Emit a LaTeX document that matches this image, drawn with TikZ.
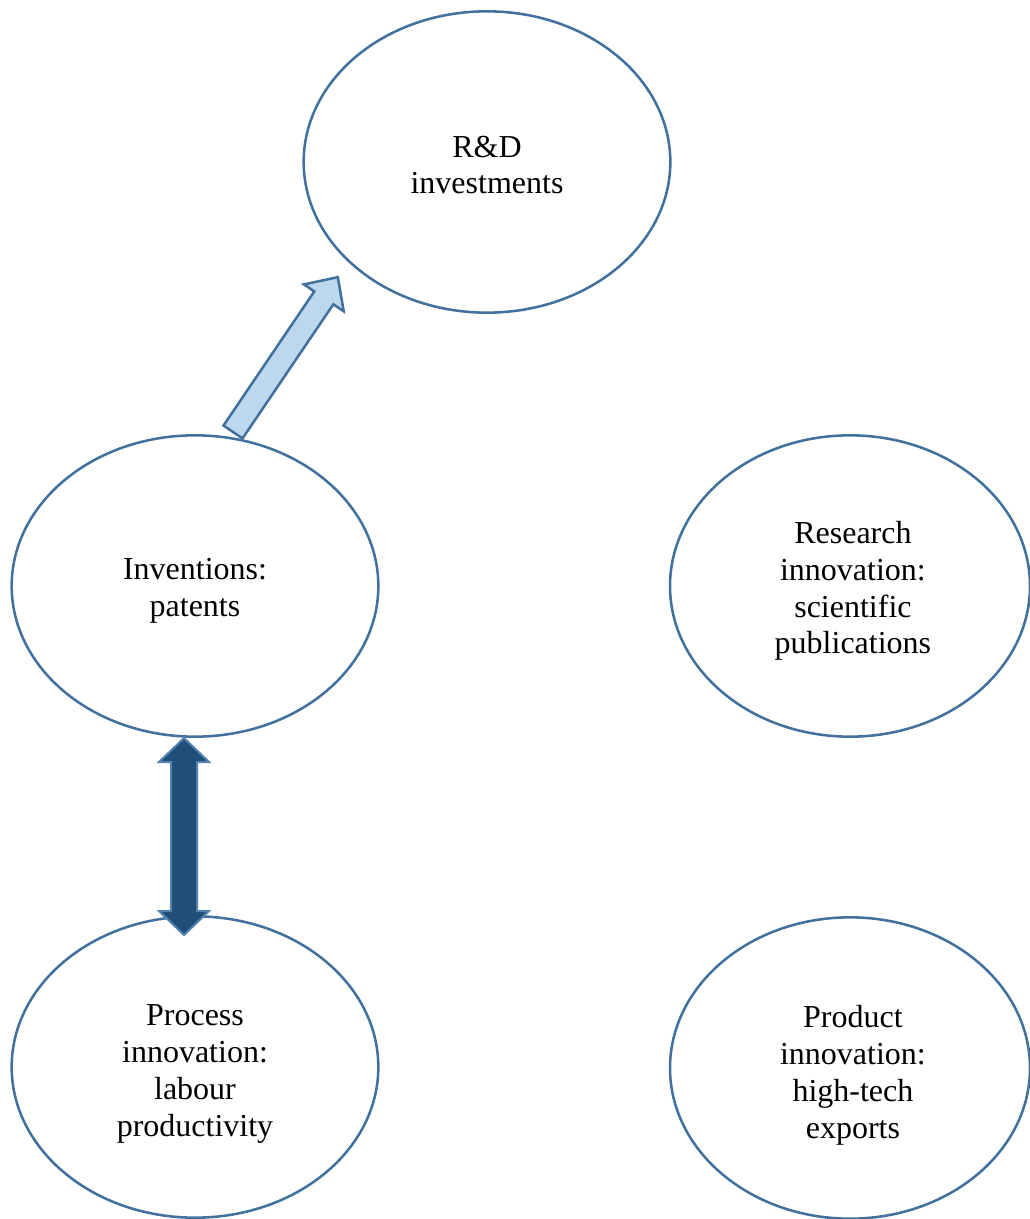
\documentclass[tikz,border=0pt]{standalone}
\usepackage{fontspec}
\setmainfont{Liberation Serif}
\usetikzlibrary{shapes.geometric}
\definecolor{edgeblue}{RGB}{65,113,156}
\definecolor{lightfill}{RGB}{189,215,238}
\definecolor{darkfill}{RGB}{31,78,121}
\definecolor{darkedge}{RGB}{84,130,176}
\begin{document}
\begin{tikzpicture}[x=0.75pt,y=-0.75pt,
  bubble/.style={ellipse,draw=edgeblue,line width=1.9pt,fill=white,
    minimum width=275pt,minimum height=226pt,inner sep=0pt},
  bubbleR/.style={bubble,minimum width=270pt},
  txt/.style={align=center,inner sep=0pt,font=\fontsize{24}{27.6}\selectfont}]
\useasboundingbox (0,0) rectangle (1030,1219);

\node[bubble,label={[txt,yshift=-2.3pt]center:R\&D\\investments}] (rd) at (487,162) {};
\node[bubble,label={[txt,yshift=-3.4pt]center:Inventions:\\patents}] (inv) at (195,586) {};
\node[bubbleR,label={[txt,yshift=-3.8pt,xshift=2.2pt]center:Research\\innovation:\\scientific\\publications}] (res) at (850,586) {};
\node[bubble,label={[txt,yshift=-5.3pt]center:Process\\innovation:\\labour\\productivity}] (proc) at (195,1067) {};
\node[bubbleR,label={[txt,yshift=-5.6pt,xshift=2.2pt]center:Product\\innovation:\\high-tech\\exports}] (prod) at (850,1068) {};

% single block arrow from the inventions bubble towards R&D
\coordinate (upTail) at (233,432);
\begin{scope}[shift={(upTail)},rotate=55.9]
  \draw[draw=edgeblue,fill=lightfill,line width=1.9pt,line join=miter]
    (0,-11.5) -- (162,-11.5) -- (162,-24) -- (187,0) -- (162,24) -- (162,11.5) -- (0,11.5) -- cycle;
\end{scope}

% double block arrow between inventions and process innovation
\coordinate (dblTop) at (184,738);
\begin{scope}[shift={(dblTop)}]
  \draw[draw=darkedge,fill=darkfill,line width=1.5pt,line join=miter]
    (0,0) -- (25,24) -- (13,24) -- (13,173) -- (25,173) -- (0,197)
    -- (-25,173) -- (-13,173) -- (-13,24) -- (-25,24) -- cycle;
\end{scope}
\end{tikzpicture}
\end{document}
